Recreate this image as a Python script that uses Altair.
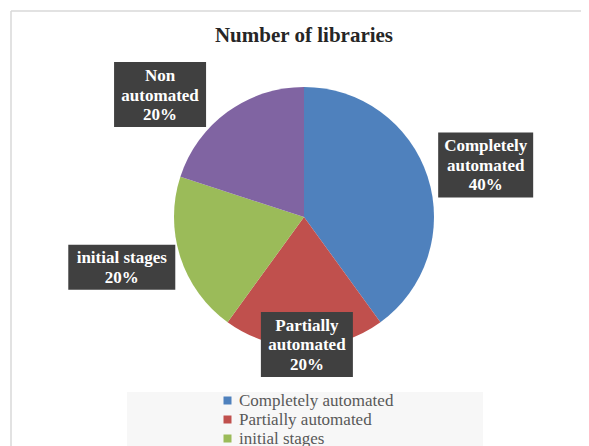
import altair as alt
import pandas as pd

# ---- data ----
categories = ["Completely automated", "Partially automated", "initial stages", "Non automated"]
values = [40, 20, 20, 20]
label_lines = ["Completely\nautomated", "Partially\nautomated", "initial stages", "Non\nautomated"]
colors = ["#4F81BD", "#C0504D", "#9BBB59", "#8064A2"]
title_text = "Number of libraries"

df = pd.DataFrame({
    "category": categories,
    "value": values,
    "label": label_lines,
    "order": list(range(len(categories))),
})

# ---- layout constants (styles, not data) ----
CX, CY, R = 296, 209, 130
SERIF = "Liberation Serif"
LH = 19.5

base = alt.Chart(df)

pie = base.mark_arc(radius=R).encode(
    theta=alt.Theta("value:Q", stack=True),
    order=alt.Order("order:Q"),
    color=alt.Color(
        "category:N",
        scale=alt.Scale(domain=categories, range=colors),
        legend=alt.Legend(
            title=None, orient="none", legendX=211, legendY=384,
            direction="vertical", symbolType="square", symbolSize=64,
            symbolStrokeWidth=0, labelFont=SERIF, labelFontSize=17,
            labelColor="#595959", rowPadding=1, padding=0, labelOffset=3,
            labelLimit=400,
        ),
    ),
    x=alt.value(CX),
    y=alt.value(CY),
)

nudge_expr = (
    "datum.category === 'Completely automated' ? 2 : "
    "datum.category === 'Partially automated' ? -1.3 : "
    "datum.category === 'initial stages' ? 2.6 : -13.6"
)

lab = (
    base.transform_joinaggregate(total="sum(value)")
    .transform_window(cum="sum(value)", sort=[alt.SortField("order")], frame=[None, 0])
    .transform_calculate(nudge=nudge_expr)
    .transform_calculate(
        mid="(datum.cum - datum.value / 2) / datum.total * 2 * PI + datum.nudge * PI / 180",
        r="datum.category === 'Partially automated' ? 127.5 : 189",
        full="datum.label + '\\n' + format(datum.value / datum.total, '.0%')",
        maxlen="max(length(split(datum.label, '\\n')[0]), length(split(datum.label, '\\n')[1] || ''))",
    )
    .transform_calculate(
        cx=f"{CX} + datum.r * sin(datum.mid)",
        cy=f"{CY} - datum.r * cos(datum.mid)",
        nlines="length(split(datum.full, '\\n'))",
    )
    .transform_calculate(
        bw="3 * datum.maxlen + 65",
        bh="20 * datum.nlines + 5",
        ty=f"datum.cy - (datum.nlines - 1) * {LH} / 2 + 1",
    )
    .transform_calculate(
        bx="datum.cx - datum.bw / 2",
        bx2="datum.cx + datum.bw / 2",
        by="datum.cy - datum.bh / 2",
        by2="datum.cy + datum.bh / 2",
    )
)

boxes = lab.mark_rect(color="#404040").encode(
    x=alt.X("bx:Q", scale=None, axis=None),
    x2="bx2:Q",
    y=alt.Y("by:Q", scale=None, axis=None),
    y2="by2:Q",
)

texts = lab.mark_text(
    font=SERIF, fontWeight="bold", fontSize=17, color="#ffffff",
    align="center", baseline="middle", lineBreak="\n", lineHeight=LH,
).encode(
    x=alt.X("cx:Q", scale=None, axis=None),
    y=alt.Y("ty:Q", scale=None, axis=None),
    text="full:N",
)

one = pd.DataFrame({"t": [title_text]})

title = alt.Chart(one).mark_text(
    font=SERIF, fontWeight="bold", fontSize=21, color="#262626",
    align="center", baseline="middle",
).encode(x=alt.value(296), y=alt.value(28), text="t:N")

legend_bg = alt.Chart(one).mark_rect(color="#f7f7f7").encode(
    x=alt.value(119), x2=alt.value(475), y=alt.value(384), y2=alt.value(445)
)

frame_top = alt.Chart(one).mark_rule(color="#d9d9d9", strokeWidth=1.5).encode(
    x=alt.value(3), x2=alt.value(573), y=alt.value(3)
)
frame_left = alt.Chart(one).mark_rule(color="#d9d9d9", strokeWidth=1.5).encode(
    x=alt.value(3), y=alt.value(3), y2=alt.value(440)
)

chart = (
    alt.layer(frame_top, frame_left, legend_bg, pie, boxes, texts, title)
    .properties(width=573, height=440, autosize=alt.AutoSizeParams(type="none"), padding=0)
    .configure_view(stroke=None)
)

chart.save("out.html", embed_options={"renderer": "svg", "actions": False})
